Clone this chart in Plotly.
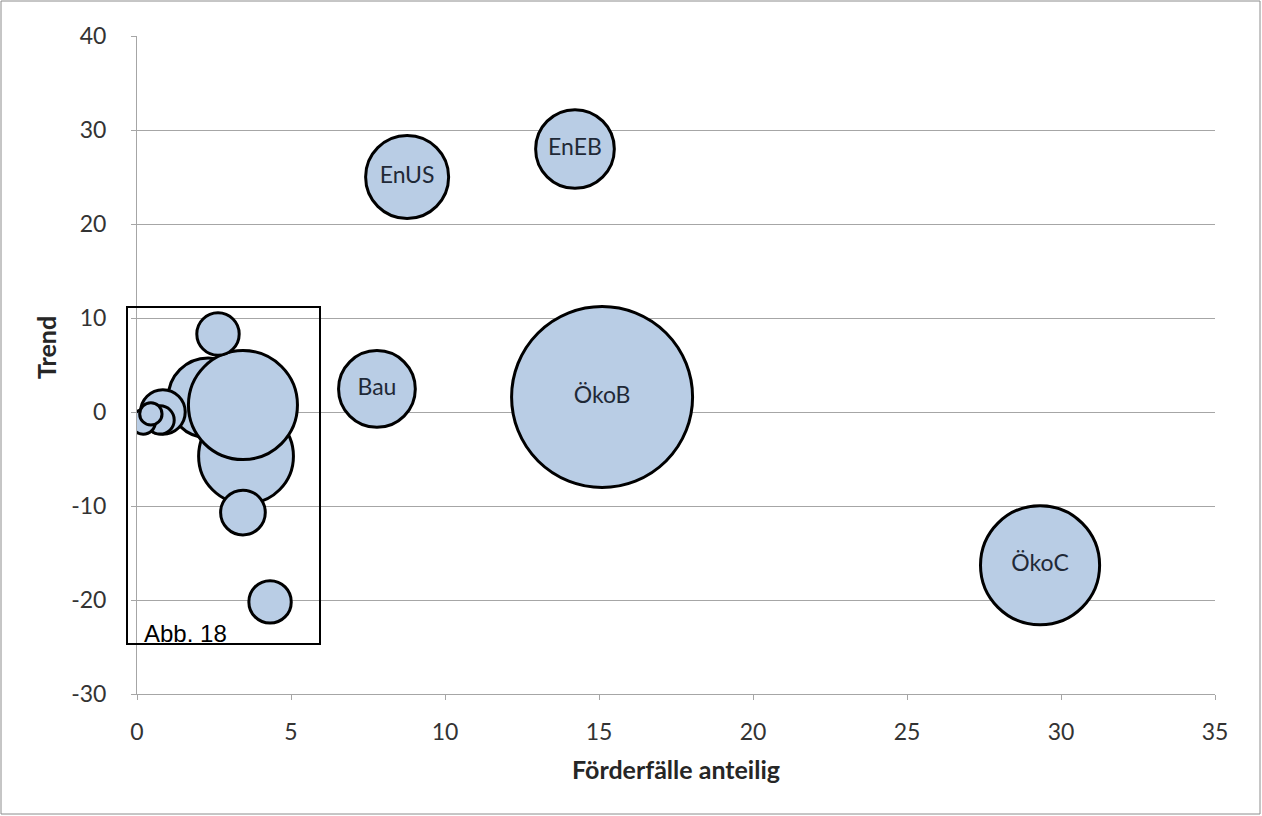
import plotly.graph_objects as go

# Data
foerderfaelle = [3.54, 2.31, 3.44, 2.63, 3.44, 4.32, 0.84, 0.75, 0.20, 0.45,
                 7.79, 8.77, 14.22, 15.10, 29.32]
trend = [-4.7, 1.5, 0.74, 8.3, -10.7, -20.2, 0.0, -0.85, -1.06, -0.2,
         2.45, 25.0, 27.98, 1.6, -16.3]
volumen = [9.0, 6.4, 11.9, 1.8, 2.0, 1.8, 2.0, 0.8, 0.6, 0.5,
           5.9, 6.9, 6.2, 32.8, 14.2]
labels = ["", "", "", "", "", "", "", "", "", "",
          "Bau", "EnUS", "EnEB", "ÖkoB", "ÖkoC"]

x_ticks = [0, 5, 10, 15, 20, 25, 30, 35]
y_ticks = [-30, -20, -10, 0, 10, 20, 30, 40]

FONT = "Lato, Open Sans, sans-serif"

fig = go.Figure()
fig.add_trace(go.Scatter(
    x=foerderfaelle, y=trend, text=labels,
    mode="markers+text", textposition="middle center",
    textfont=dict(family=FONT, size=23, color="#1F2937"),
    marker=dict(size=volumen, sizemode="area", sizeref=2.0 * max(volumen) / 181**2,
                color="#B9CDE5", opacity=1,
                line=dict(color="#000000", width=3)),
    cliponaxis=True, showlegend=False, hoverinfo="skip",
))

grid = "#A6A6A6"
fig.update_xaxes(range=[0, 35], tickvals=x_ticks, ticktext=[str(v) for v in x_ticks],
                 showgrid=False, zeroline=False, showline=True, linecolor=grid, linewidth=1,
                 ticks="outside", ticklen=5, tickcolor=grid, ticklabelstandoff=12,
                 tickfont=dict(family=FONT, size=23, color="#333333"))
fig.update_yaxes(range=[-30, 40], tickvals=y_ticks, ticktext=[str(v) for v in y_ticks],
                 showgrid=True, gridcolor=grid, gridwidth=1, zeroline=False,
                 showline=True, linecolor=grid, linewidth=1,
                 ticks="outside", ticklen=5, tickcolor=grid, ticklabelstandoff=20,
                 tickfont=dict(family=FONT, size=23, color="#333333"))

L, R, T, B = 137, 47, 36, 122
W, H = 1262, 816
pw, ph = W - L - R, H - T - B

def px_x(p):
    return (p - L) / pw

def px_y(p):
    return (H - B - p) / ph

shapes = [
    # outer chart border
    dict(type="rect", xref="paper", yref="paper",
         x0=px_x(1), x1=px_x(W - 2), y0=px_y(H - 2), y1=px_y(1),
         line=dict(color="#8C8C8C", width=1), fillcolor="rgba(0,0,0,0)", layer="below"),
    # "Abb. 18" frame
    dict(type="rect", xref="paper", yref="paper",
         x0=px_x(127), x1=px_x(320), y0=px_y(644), y1=px_y(307),
         line=dict(color="#000000", width=2), fillcolor="rgba(0,0,0,0)", layer="above"),
]

annotations = [
    dict(text="<b>Förderfälle anteilig</b>", xref="paper", yref="paper",
         x=px_x(676), y=px_y(769), xanchor="center", yanchor="middle", showarrow=False,
         font=dict(family=FONT, size=25, color="#262626")),
    dict(text="<b>Trend</b>", xref="paper", yref="paper", textangle=-90,
         x=px_x(46), y=px_y(348), xanchor="center", yanchor="middle", showarrow=False,
         font=dict(family=FONT, size=25, color="#262626")),
    dict(text="Abb. 18", xref="paper", yref="paper",
         x=px_x(142), y=px_y(633), xanchor="left", yanchor="middle", showarrow=False,
         font=dict(family="Liberation Sans, Arial, sans-serif", size=24, color="#000000")),
]

fig.update_layout(
    width=W, height=H,
    margin=dict(l=L, r=R, t=T, b=B),
    plot_bgcolor="white", paper_bgcolor="white",
    shapes=shapes, annotations=annotations,
)

fig.write_html("out.html", config={"displayModeBar": False},
               post_script="document.body.style.margin='0';")
